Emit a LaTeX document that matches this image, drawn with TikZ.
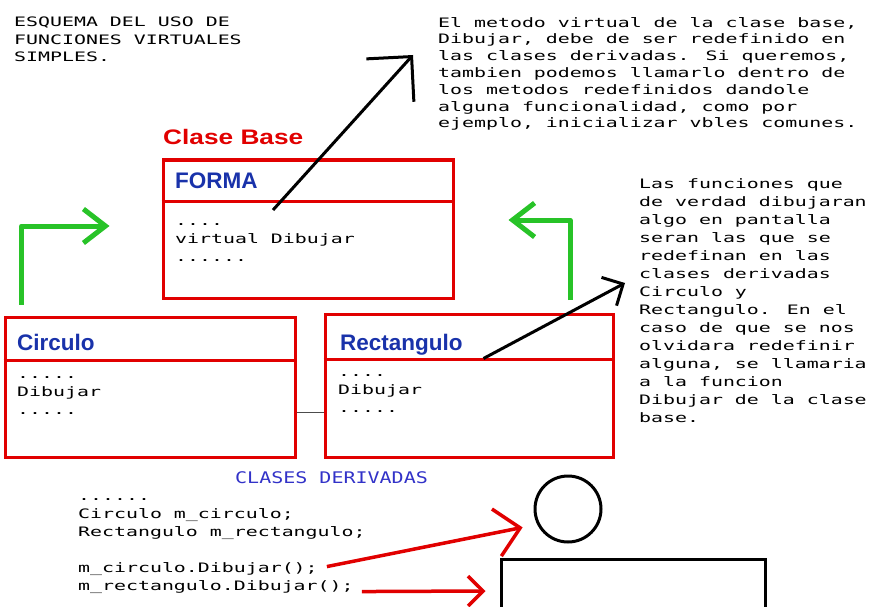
\documentclass[tikz,border=0pt]{standalone}
\usepackage{fontspec}
\usepackage{xcolor}
\usepackage{tikz}
\usetikzlibrary{arrows.meta,positioning,calc}
\newfontfamily\pixfont[FakeStretch=1.53]{DejaVu Sans Mono}
\newfontfamily\tagfont[FakeStretch=1.25]{DejaVu Sans Mono}
\newfontfamily\headfont{Liberation Sans}
\newfontfamily\basefont[FakeStretch=1.25]{Liberation Sans}
\definecolor{boxred}{RGB}{225,0,0}
\definecolor{headblue}{RGB}{25,50,170}
\definecolor{linkgreen}{RGB}{40,195,40}
\definecolor{tagblue}{RGB}{50,50,200}

\tikzset{
  classbox/.style={draw=boxred, line width=3pt, rectangle, inner sep=0pt},
  classline/.style={draw=boxred, line width=3pt},
  classname/.style={anchor=base west, inner sep=0pt, text=headblue,
    font=\headfont\bfseries\fontsize{22.5}{24}\selectfont},
  pix/.style={anchor=base west, inner sep=0pt, font=\pixfont\fontsize{13}{18}\selectfont},
  note/.style={anchor=north west, inner sep=0pt, align=left,
    font=\pixfont\fontsize{13}{#1}\selectfont},
  greenarrow/.style={draw=linkgreen, line width=5pt, line join=round,
    -{Straight Barb[length=22pt,width=34pt]}},
  blackarrow/.style={draw=black, line width=3pt, -{Straight Barb[length=#1]}},
  redarrow/.style={draw=boxred, line width=3.5pt, -{Straight Barb[length=#1]}}
}

\begin{document}
\begin{tikzpicture}[x=1pt,y=-1pt]
  \useasboundingbox (0,0) rectangle (870,607);
  % notes
  \node[note=17.8] (title) at (14,16.5) {ESQUEMA DEL USO DE\\FUNCIONES VIRTUALES\\SIMPLES.};
  \node[note=16.8] (topnote) at (438,17) {El metodo virtual de la clase base,\\
    Dibujar, debe de ser redefinido en\\las clases derivadas. Si queremos,\\
    tambien podemos llamarlo dentro de\\los metodos redefinidos dandole\\
    alguna funcionalidad, como por\\ejemplo, inicializar vbles comunes.};
  \node[note=18] (rightnote) at (639,178) {Las funciones que\\de verdad dibujaran\\
    algo en pantalla\\seran las que se\\redefinan en las\\clases derivadas\\
    Circulo y\\Rectangulo. En el\\caso de que se nos\\olvidara redefinir\\
    alguna, se llamaria\\a la funcion\\Dibujar de la clase\\base.};

  % base class
  \node[anchor=base west, inner sep=0pt, text=boxred,
    font=\basefont\bfseries\fontsize{21}{24}\selectfont] (clasebase) at (163,145) {Clase Base};
  \node[classbox, minimum width=290pt, minimum height=138pt] (forma) at (308,229) {};
  \draw[classline] ($(forma.north west)+(0,42.5)$) -- ($(forma.north east)+(0,42.5)$);
  \node[classname] (formaname) at (175,188) {FORMA};
  \node[pix] (forma1) at (175,225) {....};
  \node[pix] (forma2) at (175,243) {virtual Dibujar};
  \node[pix] (forma3) at (175,261) {......};

  % derived classes
  \node[classbox, minimum width=290pt, minimum height=140pt] (circulo) at (150,387) {};
  \draw[classline] ($(circulo.north west)+(0,44.5)$) -- ($(circulo.north east)+(0,44.5)$);
  \node[classname] (circuloname) at (17,350) {Circulo};
  \node[pix] (circulo1) at (17,378) {.....};
  \node[pix] (circulo2) at (17,396) {Dibujar};
  \node[pix] (circulo3) at (17,414) {.....};

  \node[classbox, minimum width=288pt, minimum height=143pt] (rectangulo) at (469,385.5) {};
  \draw[classline] ($(rectangulo.north west)+(0,46.5)$) -- ($(rectangulo.north east)+(0,46.5)$);
  \node[classname] (rectanguloname) at (340,350) {Rectangulo};
  \node[pix] (rectangulo1) at (338,376) {....};
  \node[pix] (rectangulo2) at (338,394) {Dibujar};
  \node[pix] (rectangulo3) at (338,412) {.....};

  \draw[gray!60!black, line width=1pt] ($(circulo.east)+(0,25)$) -- ($(rectangulo.west)+(0,26.5)$);
  \node[anchor=base west, inner sep=0pt, text=tagblue,
    font=\tagfont\fontsize{16}{18}\selectfont] (derivadas) at (235,483) {CLASES DERIVADAS};

  % code and drawn shapes
  \node[pix] (code1) at (78,500) {......};
  \node[pix] (code2) at (78,518) {Circulo m\_circulo;};
  \node[pix] (code3) at (78,536) {Rectangulo m\_rectangulo;};
  \node[pix] (callcirc) at (78,572) {m\_circulo.Dibujar();};
  \node[pix] (callrect) at (78,590) {m\_rectangulo.Dibujar();};
  \node[draw, circle, line width=3pt, minimum size=66pt, inner sep=0pt] (circulofig) at (568,509) {};
  \node[draw, line width=3pt, minimum width=264pt, minimum height=54pt, inner sep=0pt] (rectfig) at (633,586) {};

  % arrows
  \draw[greenarrow] ($(circulo.north west)+(18,-11)$) |- ([xshift=-52pt,yshift=3pt]forma.west);
  \draw[greenarrow] ($(rectangulo.north east)+(-44.5,-12.5)$) |- ([xshift=54pt,yshift=9pt]forma.east);
  \draw[blackarrow={32pt 0 0}] ($(forma.north west)+(111.5,51.5)$) -- ([xshift=-25pt,yshift=-38pt]topnote.north west);
  \draw[blackarrow={16pt 0 0}] ($(rectangulo.north west)+(160,46)$) -- ([xshift=-14pt,yshift=-105pt]rightnote.north west);
  \draw[redarrow={24pt 0 0}] ([xshift=9pt,yshift=2pt]callcirc.east) -- ([xshift=-21pt,yshift=6pt]circulofig.south west);
  \draw[redarrow={15pt 0 0}] ([xshift=8pt,yshift=-5pt]callrect.east) -- ([xshift=-14pt,yshift=-5pt]rectfig.west);
\end{tikzpicture}
\end{document}
